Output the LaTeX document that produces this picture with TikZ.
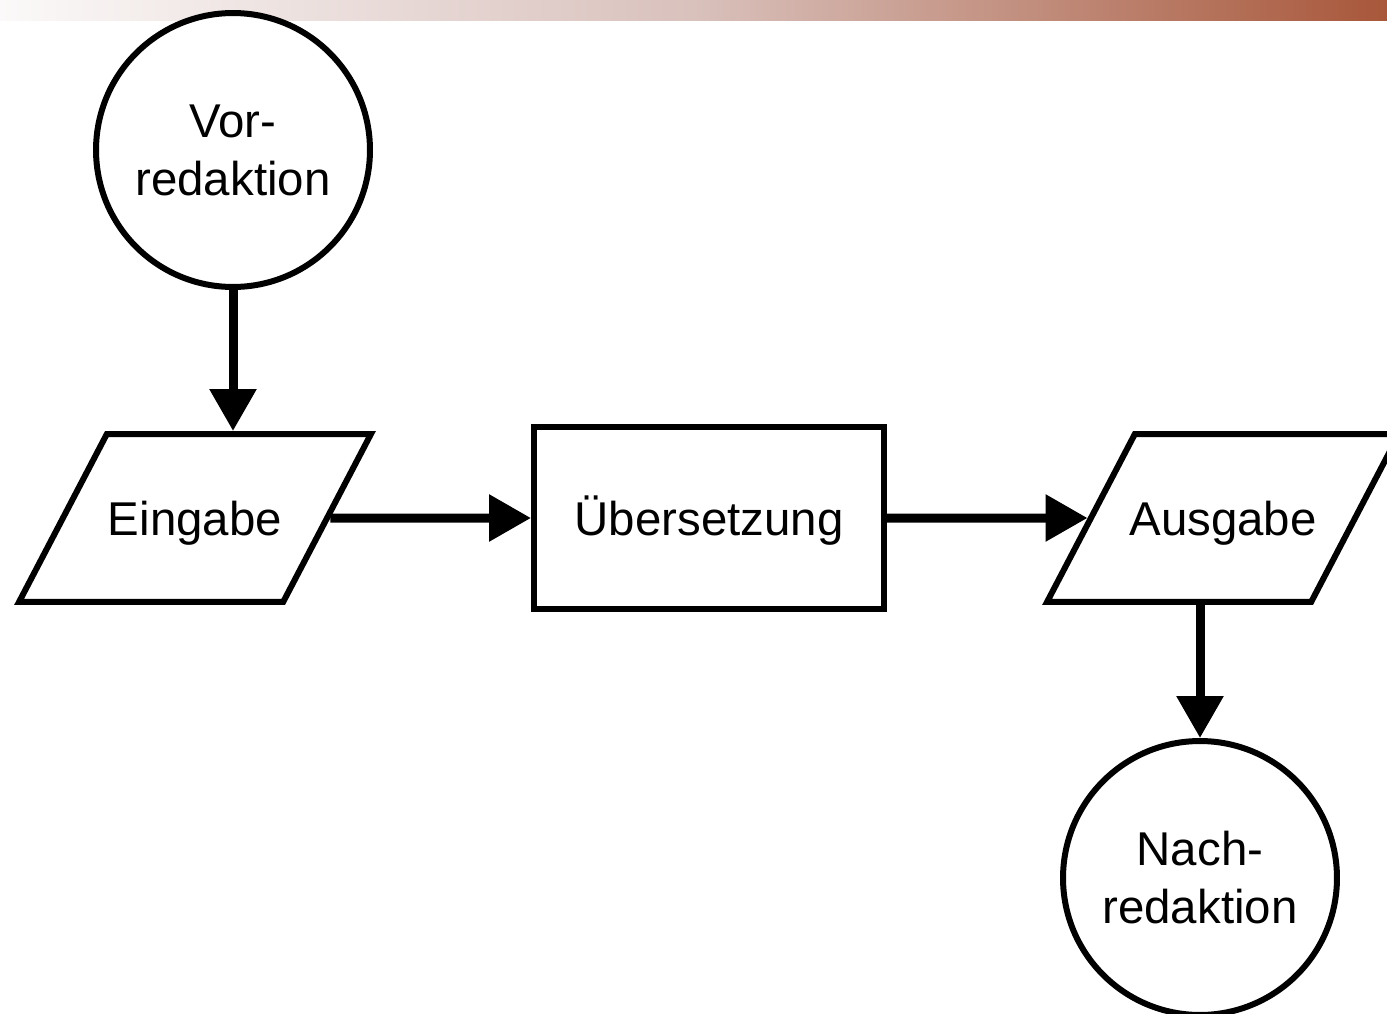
\documentclass[tikz,border=0pt]{standalone}
\usepackage{fontspec}
\setmainfont{Liberation Sans}
\usetikzlibrary{shapes,arrows,arrows.meta,positioning}

\definecolor{barLeft}{HTML}{FBF9F9}
\definecolor{barMid}{HTML}{D9C1BC}
\definecolor{barRight}{HTML}{A8573A}

\begin{document}
\begin{tikzpicture}[x=0.02cm, y=-0.02cm]
			\tikzstyle{Flow}	= [draw, line width=0.12cm, fill=white, align=center, font=\fontsize{27}{33}\selectfont]
			\tikzstyle{Edit}	= [Flow, circle, minimum size=5.48cm, inner sep=0pt]
			\tikzstyle{IO}		= [Flow, trapezium, trapezium left angle=62.4, trapezium right angle=117.6, trapezium stretches body, minimum width=7.04cm, text height=0.8cm, text depth=0.12cm, inner xsep=-0.4cm, inner ysep=1.22cm]
			\tikzstyle{Process}	= [Flow, rectangle, minimum width=7cm, minimum height=3.64cm, text height=0.8cm, text depth=0.12cm, inner sep=0pt]
			\tikzstyle{Arrow}	= [line width=0.18cm, -{Triangle[length=0.84cm, width=0.9cm]}]
			
			\useasboundingbox (0, 0) rectangle (1387, 1014);
			\shade [left color=barLeft, right color=barRight, middle color=barMid] (0, 0) rectangle (1387, 20);
			
			\node (vor) at (233, 150) [Edit] {Vor-\\redaktion};
			\node (eingabe) at (195, 518) [IO] {Eingabe};
			\node (uebersetzung) at (709, 518) [Process] {Übersetzung};
			\node (ausgabe) at (1223, 518) [IO] {Ausgabe};
			\node (nach) at (1200, 878) [Edit] {Nach-\\redaktion};
			
			\draw (vor.south) to (vor.south |- eingabe.north) [Arrow];
			\draw (eingabe) to (uebersetzung) [Arrow];
			\draw (uebersetzung) to (ausgabe) [Arrow];
			\draw (nach.north |- ausgabe.south) to (nach.north) [Arrow];
		\end{tikzpicture}
\end{document}
